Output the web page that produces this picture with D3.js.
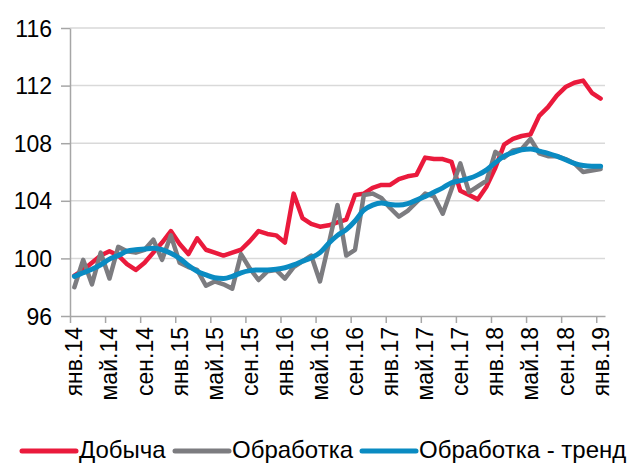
<!DOCTYPE html>
<html lang="ru">
<head>
    <meta charset="UTF-8">
    <script src="https://d3js.org/d3.v7.min.js"></script>
    <title>Добыча и обработка</title>
    <style>
        body { margin: 0; background: #fff; }
        text { font-family: "Liberation Sans", Arial, sans-serif; fill: #000; }
        .grid line { stroke: #d9d9d9; stroke-width: 1.5px; }
        .axis path, .axis line { stroke: #a6a6a6; stroke-width: 1.5px; }
        .series { fill: none; stroke-linejoin: round; stroke-linecap: round; }
    </style>
</head>
<body>
<div id="chart"></div>
<script>
    // month index 0 = янв.14 ... 60 = янв.19
    var tickMonths = [0, 4, 8, 12, 16, 20, 24, 28, 32, 36, 40, 44, 48, 52, 56, 60];
    var tickLabels = ["янв.14", "май.14", "сен.14", "янв.15", "май.15", "сен.15", "янв.16", "май.16",
                      "сен.16", "янв.17", "май.17", "сен.17", "янв.18", "май.18", "сен.18", "янв.19"];
    var yTicks = [96, 100, 104, 108, 112, 116];

    var dobycha = [98.8, 99.2, 99.7, 100.2, 100.5, 100.2, 99.6, 99.2, 99.7, 100.4, 101.1, 101.9,
                   101.0, 100.3, 101.4, 100.6, 100.4, 100.2, 100.4, 100.6, 101.2, 101.9, 101.7, 101.6,
                   101.1, 104.5, 102.8, 102.4, 102.2, 102.3, 102.5, 102.7, 104.4, 104.5, 104.9, 105.1,
                   105.1, 105.5, 105.7, 105.8, 107.0, 106.9, 106.9, 106.7, 104.7, 104.4, 104.1, 105.0,
                   106.3, 107.9, 108.3, 108.5, 108.6, 109.9, 110.5, 111.3, 111.9, 112.2, 112.35, 111.5, 111.1];

    var obrabotka = [98.0, 99.9, 98.2, 100.4, 98.6, 100.8, 100.5, 100.4, 100.6, 101.3, 99.9, 101.6,
                     99.7, 99.4, 99.2, 98.1, 98.4, 98.2, 97.9, 100.3, 99.3, 98.5, 99.1, 99.2,
                     98.6, 99.4, 99.8, 100.2, 98.4, 101.0, 103.7, 100.2, 100.6, 104.4, 104.5, 104.2,
                     103.5, 102.9, 103.3, 103.9, 104.5, 104.3, 103.1, 104.8, 106.6, 104.6, 105.0, 105.4,
                     107.4, 107.0, 107.5, 107.6, 108.3, 107.3, 107.1, 107.1, 106.9, 106.6, 106.0, 106.1, 106.2];

    var trend = [98.75, 99.0, 99.25, 99.55, 99.95, 100.2, 100.5, 100.6, 100.65, 100.7, 100.6, 100.35,
                 100.0, 99.5, 99.1, 98.85, 98.65, 98.6, 98.75, 99.0, 99.15, 99.2, 99.2, 99.25,
                 99.35, 99.55, 99.8, 100.05, 100.4, 101.05, 101.6, 102.0, 102.6, 103.35, 103.7, 103.85,
                 103.75, 103.7, 103.8, 104.05, 104.3, 104.6, 104.9, 105.25, 105.4, 105.55, 105.8, 106.15,
                 106.65, 107.1, 107.35, 107.55, 107.6, 107.45, 107.3, 107.1, 106.85, 106.6, 106.45, 106.4, 106.4];

    var seriesNames = ["Добыча", "Обработка", "Обработка - тренд"];
    var seriesColors = ["#ea1a3c", "#7c7c80", "#0a8bc2"];
    var seriesWidths = [4.5, 4.5, 5];

    var W = 627, H = 464;
    var plotLeft = 70, plotRight = 605, plotTop = 28, plotBottom = 316;

    var svg = d3.select("#chart").append("svg").attr("width", W).attr("height", H);

    var x = d3.scaleLinear().domain([0, dobycha.length]).range([plotLeft, plotRight]);
    var y = d3.scaleLinear().domain([96, 116]).range([plotBottom, plotTop]);

    // gridlines
    svg.append("g").attr("class", "grid")
        .selectAll("line").data(yTicks.filter(function(d){ return d > 96; })).enter().append("line")
        .attr("x1", plotLeft).attr("x2", plotRight)
        .attr("y1", function(d){ return y(d); }).attr("y2", function(d){ return y(d); });

    // y axis
    var yAxis = svg.append("g").attr("class", "axis").attr("transform", "translate(" + plotLeft + ",0)")
        .call(d3.axisLeft(y).tickValues(yTicks).tickSize(9).tickPadding(9).tickSizeOuter(0));
    yAxis.selectAll("text").style("font-size", "23px").attr("dy", "0.35em");

    // x axis (ticks on month boundaries)
    svg.append("g").attr("class", "axis").attr("transform", "translate(0," + plotBottom + ")")
        .call(d3.axisBottom(x).tickValues(tickMonths).tickSize(7).tickSizeOuter(0).tickFormat(""));

    svg.append("g").selectAll("text").data(tickMonths).enter().append("text")
        .attr("transform", function(d){ return "translate(" + (x(d + 0.5) + 8) + "," + (plotBottom + 11) + ") rotate(-90)"; })
        .attr("text-anchor", "end")
        .style("font-size", "23px")
        .text(function(d, i){ return tickLabels[i]; });

    // lines
    var data = [dobycha, obrabotka, trend];
    data.forEach(function(vals, k) {
        var line = d3.line()
            .x(function(d, i){ return x(i + 0.5); })
            .y(function(d){ return y(d); })
            .curve(k === 2 ? d3.curveMonotoneX : d3.curveLinear);
        svg.append("path").attr("class", "series").datum(vals)
            .attr("stroke", seriesColors[k])
            .attr("stroke-width", seriesWidths[k])
            .attr("d", line);
    });

    // legend
    var legendX = [22, 175, 362];
    var lg = svg.append("g");
    seriesNames.forEach(function(name, k) {
        lg.append("line")
            .attr("x1", legendX[k]).attr("x2", legendX[k] + 54)
            .attr("y1", 451).attr("y2", 451)
            .attr("stroke", seriesColors[k]).attr("stroke-width", 5).attr("stroke-linecap", "round");
        lg.append("text")
            .attr("x", legendX[k] + 57).attr("y", 458)
            .style("font-size", "24px")
            .text(name);
    });
</script>
</body>
</html>
